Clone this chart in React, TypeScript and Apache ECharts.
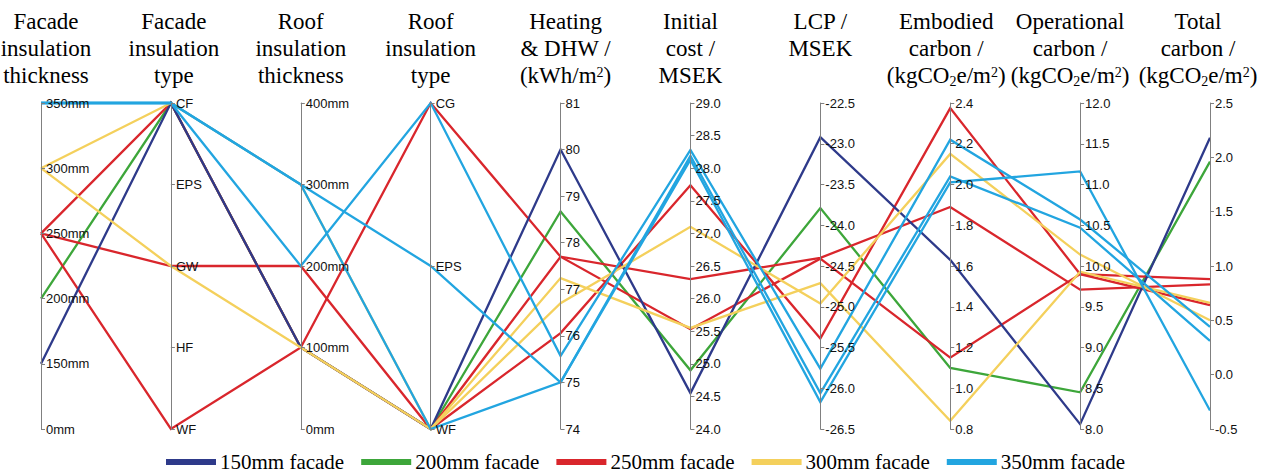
import React, { useEffect, useRef } from 'react';
import * as echarts from 'echarts';

// Axis titles (rich tokens for sub/superscripts)
const axisNames = [
  'Facade\ninsulation\nthickness',
  'Facade\ninsulation\ntype',
  'Roof\ninsulation\nthickness',
  'Roof\ninsulation\ntype',
  'Heating\n& DHW /\n(kWh/m{sup|2})',
  'Initial\ncost /\nMSEK',
  'LCP /\nMSEK\n ',
  'Embodied\ncarbon /\n(kgCO{sub|2}e/m{sup|2})',
  'Operational\ncarbon /\n(kgCO{sub|2}e/m{sup|2})',
  'Total\ncarbon /\n(kgCO{sub|2}e/m{sup|2})',
];

// Category tick labels
const facadeTypes = ['WF', 'HF', 'GW', 'EPS', 'CF'];
const roofTypes = ['WF', 'EPS', 'CG'];

// Numeric axis ranges [min, max, interval]
const facadeThkRange = [100, 350, 50];
const roofThkRange = [0, 400, 100];
const heatingRange = [74, 81, 1];
const initCostRange = [24, 29, 0.5];
const lcpRange = [-26.5, -22.5, 0.5];
const embodiedRange = [0.8, 2.4, 0.2];
const operationalRange = [8, 12, 0.5];
const totalRange = [-0.5, 2.5, 0.5];

const seriesNames = ['150mm facade', '200mm facade', '250mm facade', '300mm facade', '350mm facade'];
const seriesColors = ['#2e3a8a', '#3da63a', '#d9262c', '#f4d05c', '#22a5e0'];
// drawing order (bottom to top), indices into seriesNames
const drawOrder = [1, 2, 0, 3, 4];

// Each row: facade thk, facade type, roof thk, roof type, heating, initial cost, LCP, embodied, operational, total
const facade150 = [
  [150, 'CF', 100, 'WF', 80.0, 24.55, -22.92, 1.63, 8.06, 2.18],
];
const facade200 = [
  [200, 'CF', 100, 'WF', 78.67, 24.9, -23.79, 1.1, 8.45, 1.96],
];
const facade250 = [
  [250, 'WF', 100, 'CG', 77.7, 25.53, -24.41, 1.15, 9.9, 0.88],
  [250, 'GW', 200, 'WF', 77.7, 26.3, -24.4, 1.89, 9.71, 0.83],
  [250, 'CF', 100, 'WF', 76.06, 27.74, -25.39, 2.375, 9.9, 0.64],
];
const facade300 = [
  [300, 'CF', 300, 'WF', 76.7, 27.1, -24.96, 2.15, 10.14, 0.5],
  [300, 'GW', 100, 'WF', 77.24, 25.55, -24.71, 0.84, 9.93, 0.66],
];
const facade350 = [
  [350, 'CF', 200, 'CG', 75.57, 28.28, -25.76, 2.22, 10.57, 0.44],
  [350, 'CF', 300, 'EPS', 75.0, 28.19, -26.06, 2.04, 10.47, 0.31],
  [350, 'CF', 300, 'WF', 75.0, 28.13, -26.17, 2.01, 11.16, -0.33],
];

const seriesData = [facade150, facade200, facade250, facade300, facade350];

export default function App() {
  const ref = useRef<HTMLDivElement>(null);

  useEffect(() => {
    const chart = echarts.init(ref.current!, null, { renderer: 'svg' });

    const serif = '"Liberation Serif", "Times New Roman", serif';
    const sans = '"Liberation Sans", Arial, sans-serif';

    const nameShift = [5, 3, 0, 0, 5, 0, 0, -4, -10, -12];
    const nameStyle = (i: number) => {
      const s = nameShift[i];
      return {
        fontFamily: serif,
        fontSize: 23,
        lineHeight: 27,
        color: '#000',
        align: 'center',
        verticalAlign: 'bottom',
        padding: s >= 0 ? [0, 0, 0, 2 * s] : [0, -2 * s, 0, 0],
        rich: {
          sub: { fontFamily: serif, fontSize: 14, lineHeight: 14, verticalAlign: 'bottom', padding: [0, 0, 1, 0] },
          sup: { fontFamily: serif, fontSize: 14, lineHeight: 14, verticalAlign: 'top', padding: [3, 0, 0, 0] },
        },
      };
    };

    const valueAxis = (dim: number, r: number[], fmt: (v: number) => string) => ({
      dim,
      type: 'value',
      min: r[0],
      max: r[1],
      interval: r[2],
      name: axisNames[dim],
      nameTextStyle: nameStyle(dim),
      axisLabel: { formatter: fmt },
    });
    const catAxis = (dim: number, cats: string[]) => ({
      dim,
      type: 'category',
      data: cats,
      boundaryGap: false,
      name: axisNames[dim],
      nameTextStyle: nameStyle(dim),
    });

    const option = {
      animation: false,
      color: seriesColors,
      legend: {
        left: 161,
        top: 446,
        icon: 'rect',
        itemWidth: 48,
        itemHeight: 4,
        itemGap: 17,
        data: seriesNames,
        textStyle: { fontFamily: serif, fontSize: 21, lineHeight: 22, color: '#000' },
      },
      parallel: {
        left: 41,
        right: 54,
        top: 103,
        bottom: 44,
        layout: 'horizontal',
        parallelAxisDefault: {
          nameLocation: 'end',
          nameGap: 14,
          axisLine: { lineStyle: { color: '#808080', width: 1 } },
          axisTick: { show: true, length: 4, lineStyle: { color: '#808080' } },
          axisLabel: { margin: 5, fontFamily: sans, fontSize: 13, color: '#111' },
          splitLine: { show: false },
        },
      },
      parallelAxis: [
        valueAxis(0, facadeThkRange, (v: number) => (v === facadeThkRange[0] ? '0mm' : v + 'mm')),
        catAxis(1, facadeTypes),
        valueAxis(2, roofThkRange, (v: number) => v + 'mm'),
        catAxis(3, roofTypes),
        valueAxis(4, heatingRange, (v: number) => String(Math.round(v))),
        valueAxis(5, initCostRange, (v: number) => v.toFixed(1)),
        valueAxis(6, lcpRange, (v: number) => v.toFixed(1)),
        valueAxis(7, embodiedRange, (v: number) => v.toFixed(1)),
        valueAxis(8, operationalRange, (v: number) => v.toFixed(1)),
        valueAxis(9, totalRange, (v: number) => v.toFixed(1)),
      ],
      series: drawOrder.map((i) => ({
        name: seriesNames[i],
        type: 'parallel',
        smooth: false,
        silent: true,
        itemStyle: { color: seriesColors[i] },
        lineStyle: { color: seriesColors[i], width: 2.3, opacity: 1 },
        emphasis: { disabled: true },
        data: seriesData[i],
      })),
    };

    chart.setOption(option as any);
    return () => chart.dispose();
  }, []);

  return (
    <div
      ref={ref}
      style={{ position: 'fixed', left: 0, top: 0, width: 1264, height: 473, background: '#fff' }}
    />
  );
}
